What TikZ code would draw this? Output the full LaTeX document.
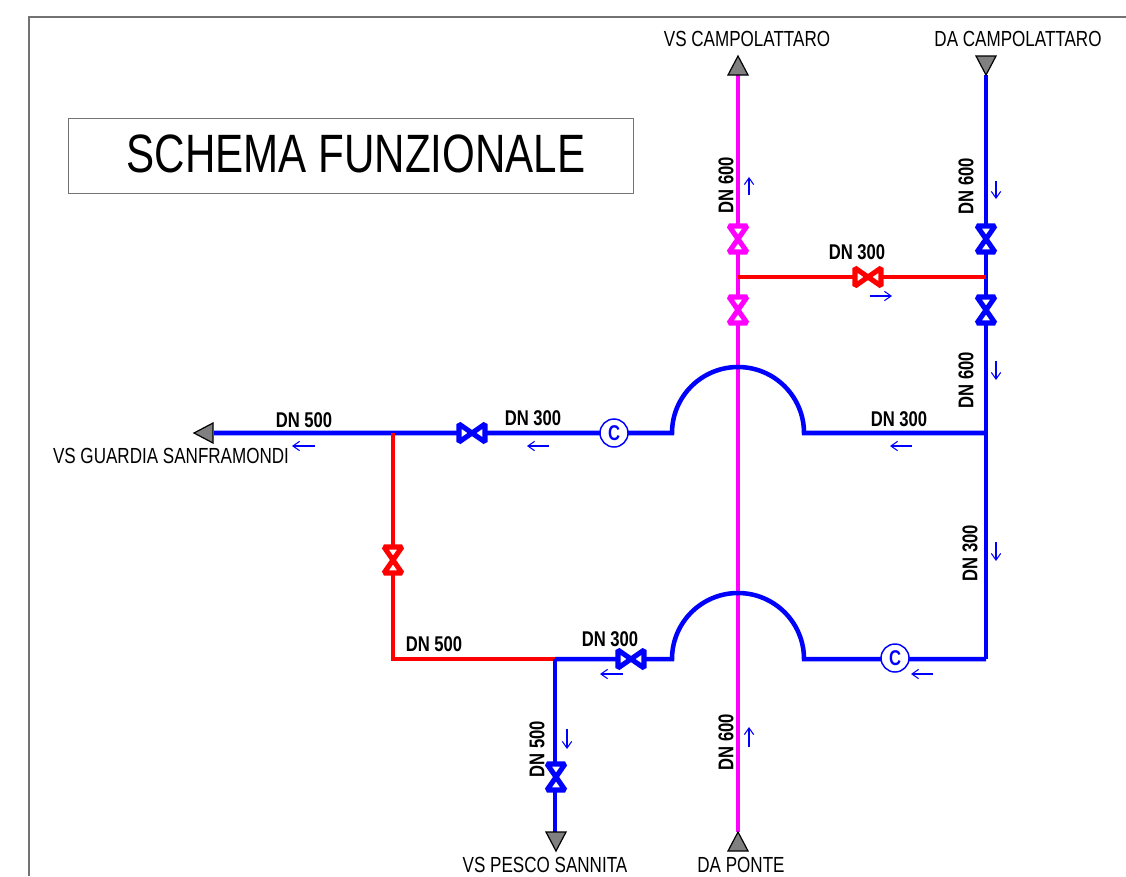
\documentclass[tikz,border=0pt]{standalone}
\usepackage{fontspec}
\setmainfont[FakeStretch=0.78]{Liberation Sans}
\usetikzlibrary{arrows.meta}
\definecolor{pipeblue}{RGB}{0,0,255}
\definecolor{pipemag}{RGB}{255,0,255}
\definecolor{pipered}{RGB}{255,0,0}
\definecolor{tipgray}{RGB}{128,128,128}
\tikzset{
  pipe/.style={line width=3.4pt,line cap=butt},
  bluepipe/.style={pipe,draw=pipeblue},
  magpipe/.style={pipe,draw=pipemag},
  redpipe/.style={pipe,draw=pipered},
  flow/.style={draw=pipeblue,line width=0.8pt,-{Straight Barb[length=5pt,width=7pt]}},
  endtip/.style={draw=black,fill=tipgray,line width=0.9pt,line join=miter},
  dn/.style={font=\bfseries\fontsize{16}{18}\selectfont,inner sep=0pt},
  dnv/.style={dn,rotate=90},
  place/.style={font=\fontsize{16.4}{18}\selectfont,inner sep=0pt},
  check/.style={circle,draw=pipeblue,fill=white,line width=1.1pt,minimum size=21pt,inner sep=0pt,text=pipeblue,font=\bfseries\fontsize{16}{18}\selectfont},
  pics/valve/.style={code={
    \draw[draw=#1,fill=white,line width=3.8pt,line join=miter,miter limit=2]
      (-13,-9)--(0,0)--(-13,9)--cycle (13,-9)--(0,0)--(13,9)--cycle;
  }},
}
\begin{document}
\begin{tikzpicture}[x=0.75pt,y=-0.75pt]
\useasboundingbox (0,0) rectangle (1126,876);
% frame
\draw[draw=black!55,line width=0.9pt] (29,876)--(29,17)--(1126,17);
\node[draw=black!55,line width=0.6pt,minimum width=424pt,minimum height=56.25pt,inner sep=0pt] (title) at (351,155.5) {};
\node[inner sep=0pt,font=\fontsize{40.5}{44}\selectfont] (titletext) at (356,154) {SCHEMA FUNZIONALE};
% junctions
\coordinate (magT) at (738,75); \coordinate (magM) at (738,277); \coordinate (magB) at (738,832);
\coordinate (bluT) at (986,75); \coordinate (bluA) at (986,277); \coordinate (bluB) at (986,433); \coordinate (bluC) at (986,659);
\coordinate (hL) at (214,433); \coordinate (hJ) at (393,433); \coordinate (arc1L) at (672,433); \coordinate (arc1R) at (804,433);
\coordinate (lJ) at (393,659); \coordinate (lK) at (555,659); \coordinate (arc2L) at (672,659); \coordinate (arc2R) at (804,659);
\coordinate (pB) at (555,832);
\coordinate (v1) at (738,239); \coordinate (v2) at (738,310); \coordinate (v3) at (986,239); \coordinate (v4) at (986,310);
\coordinate (v5) at (868,277); \coordinate (v6) at (472,433); \coordinate (v7) at (393,560); \coordinate (v8) at (631,659); \coordinate (v9) at (556,777);
% pipes
\draw[magpipe] (magT)--(magB);
\draw[bluepipe] (bluT)--(bluC);
\draw[redpipe] (magM)--(bluA);
\draw[bluepipe] (hL)--(arc1L) arc[start angle=180,end angle=360,radius=66] --(bluB);
\draw[bluepipe] (lK)--(arc2L) arc[start angle=180,end angle=360,radius=66] --(bluC);
\draw[redpipe] (hJ)--(lJ)--(lK);
\draw[bluepipe] (lK)--(pB);
% valves
\pic[rotate=90] at (v1) {valve=pipemag};
\pic[rotate=90] at (v2) {valve=pipemag};
\pic[rotate=90] at (v3) {valve=pipeblue};
\pic[rotate=90] at (v4) {valve=pipeblue};
\pic at (v5) {valve=pipered};
\pic at (v6) {valve=pipeblue};
\pic[rotate=90] at (v7) {valve=pipered};
\pic at (v8) {valve=pipeblue};
\pic[rotate=90] at (v9) {valve=pipeblue};
% check valves
\node[check] (c1) at (614,433) {C};
\node[check] (c2) at (895,658) {C};
% end tips
\filldraw[endtip] (738,56)--(748,75)--(728,75)--cycle;
\filldraw[endtip] (986,75)--(996,56)--(976,56)--cycle;
\filldraw[endtip] (194,433)--(213,423)--(213,443)--cycle;
\filldraw[endtip] (556,851)--(546,832)--(566,832)--cycle;
\filldraw[endtip] (738,832)--(748,851)--(728,851)--cycle;
% place names
\node[place] (n1) at (747,39) {VS CAMPOLATTARO};
\node[place] (n2) at (1018,39) {DA CAMPOLATTARO};
\node[place] (n3) at (171,456) {VS GUARDIA SANFRAMONDI};
\node[place] (n4) at (545,865) {VS PESCO SANNITA};
\node[place] (n5) at (741,865) {DA PONTE};
% DN labels
\node[dnv] (d1) at (726,185) {DN 600};
\node[dnv] (d2) at (966,186) {DN 600};
\node[dnv] (d3) at (966,380) {DN 600};
\node[dnv] (d4) at (970,553) {DN 300};
\node[dnv] (d5) at (537,749) {DN 500};
\node[dnv] (d6) at (726,742) {DN 600};
\node[dn] (d7) at (857,252) {DN 300};
\node[dn] (d8) at (304,420) {DN 500};
\node[dn] (d9) at (533,418) {DN 300};
\node[dn] (d10) at (899,419) {DN 300};
\node[dn] (d11) at (434,644) {DN 500};
\node[dn] (d12) at (610,639) {DN 300};
% flow arrows
\coordinate (f1a) at (749,195); \coordinate (f1b) at (749,177); \draw[flow] (f1a)--(f1b);
\coordinate (f2a) at (996,181); \coordinate (f2b) at (996,199); \draw[flow] (f2a)--(f2b);
\coordinate (f3a) at (996,361); \coordinate (f3b) at (996,380); \draw[flow] (f3a)--(f3b);
\coordinate (f4a) at (996,542); \coordinate (f4b) at (996,561); \draw[flow] (f4a)--(f4b);
\coordinate (f5a) at (870,296); \coordinate (f5b) at (892,296); \draw[flow] (f5a)--(f5b);
\coordinate (f6a) at (315,446); \coordinate (f6b) at (292,446); \draw[flow] (f6a)--(f6b);
\coordinate (f7a) at (549,446); \coordinate (f7b) at (527,446); \draw[flow] (f7a)--(f7b);
\coordinate (f8a) at (912,446); \coordinate (f8b) at (890,446); \draw[flow] (f8a)--(f8b);
\coordinate (f9a) at (623,674); \coordinate (f9b) at (600,674); \draw[flow] (f9a)--(f9b);
\coordinate (f10a) at (933,674); \coordinate (f10b) at (911,674); \draw[flow] (f10a)--(f10b);
\coordinate (f11a) at (567,729); \coordinate (f11b) at (567,749); \draw[flow] (f11a)--(f11b);
\coordinate (f12a) at (749,747); \coordinate (f12b) at (749,727); \draw[flow] (f12a)--(f12b);
\end{tikzpicture}
\end{document}
